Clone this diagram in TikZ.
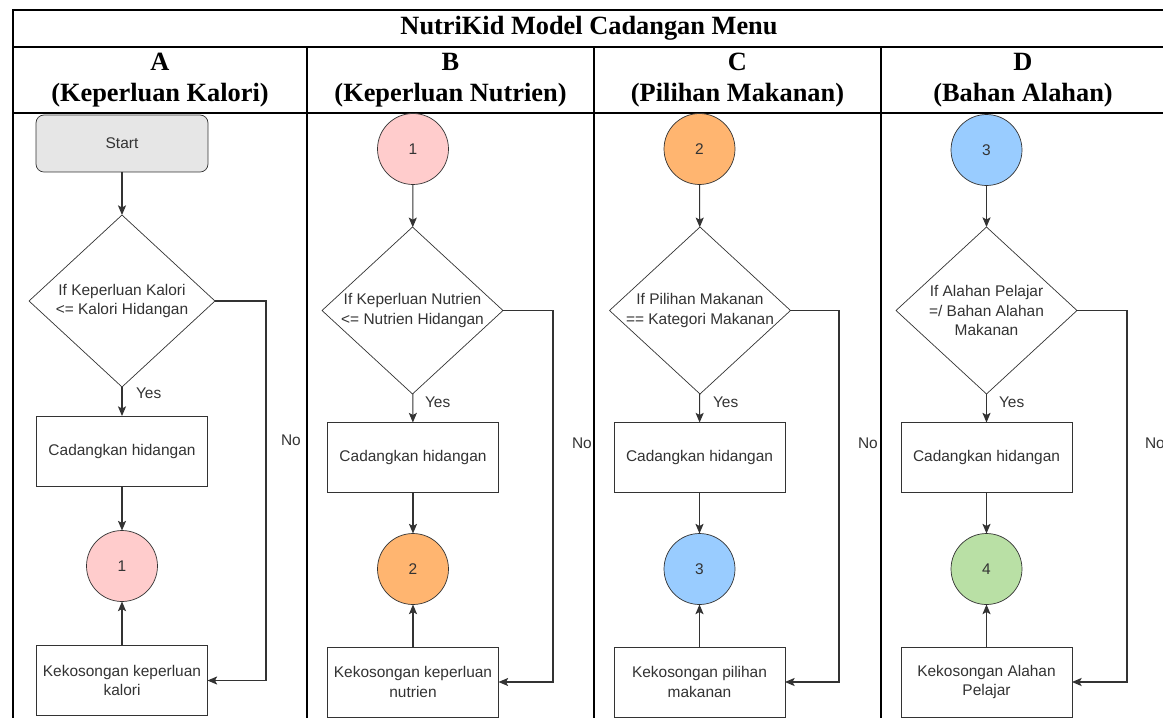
\documentclass[tikz,border=0pt]{standalone}
\usepackage{fontspec}
\setmainfont{Liberation Serif}
\newfontfamily\flowfont{Liberation Sans}
\usetikzlibrary{shapes.geometric,arrows.meta}

\definecolor{startfill}{HTML}{E6E6E6}
\definecolor{pinkfill}{HTML}{FFCCCC}
\definecolor{orangefill}{HTML}{FFB570}
\definecolor{bluefill}{HTML}{99CCFF}
\definecolor{greenfill}{HTML}{B9E0A5}
\definecolor{flowline}{HTML}{333333}

\tikzset{
    cell/.style = {line width = 1.1pt, line cap = rect},
    head/.style = {font = \bfseries\fontsize{15}{18}\selectfont, align = center, inner sep = 0},
    txt/.style = {font = \flowfont\fontsize{8.8}{11.3}\selectfont, text = black!80, align = center, inner sep = 0, outer sep = 0},
    startbox/.style = {txt, draw = flowline, fill = startfill, rounded corners = 4.5pt, minimum width = 3.44cm, minimum height = 1.14cm},
    proc/.style = {txt, draw = flowline, fill = white, minimum width = 3.42cm, minimum height = 1.4cm},
    decision/.style = {diamond, draw = flowline, fill = white, inner sep = 0, outer sep = 0, minimum width = 3.62cm, minimum height = 3.34cm},
    conn/.style = {txt, circle, draw = flowline, minimum size = 1.42cm},
    flow/.style = {draw = flowline, line width = 0.6pt, -{Stealth[length = 5.5pt, width = 4.6pt, inset = 1.2pt]}}
}

\begin{document}
\begin{tikzpicture}[x = 0.02cm, y = -0.02cm]
        \useasboundingbox (0, 0) rectangle (1163, 717);
        % table
        \draw[cell] (13, 10) -- (1163, 10);
        \draw[cell] (13, 47) -- (1163, 47);
        \draw[cell] (13, 113) -- (1163, 113);
        \draw[cell] (13, 10) -- (13, 717);
        \draw[cell] (307, 47) -- (307, 717);
        \draw[cell] (594, 47) -- (594, 717);
        \draw[cell] (881, 47) -- (881, 717);
        \node[head] (title) at (589, 28.5) {NutriKid Model Cadangan Menu};
        \node[head] (headA) at (160, 80) {A\\(Keperluan Kalori)};
        \node[head] (headB) at (450.5, 80) {B\\(Keperluan Nutrien)};
        \node[head] (headC) at (737.5, 80) {C\\(Pilihan Makanan)};
        \node[head] (headD) at (1023, 80) {D\\(Bahan Alahan)};

        % A
        \node[startbox] (startA) at (122, 143.5) {Start};
        \node[decision, minimum width = 3.72cm, minimum height = 3.44cm] (ifA) at (122, 301) {};
        \node[txt] (ifAtext) at (ifA) {If Keperluan Kalori\\<= Kalori Hidangan};
        \node[proc] (cadA) at (122, 451) {Cadangkan hidangan};
        \node[conn, fill = pinkfill] (oneA) at (122, 566) {1};
        \node[proc] (kosA) at (122, 680.5) {Kekosongan keperluan\\kalori};
        \coordinate (noA) at (266, 301);
        \draw[flow] (startA) -- (ifA);
        \draw[flow] (ifA) -- (cadA);
        \draw[flow] (cadA) -- (oneA);
        \draw[flow] (kosA) -- (oneA);
        \draw[flow] (ifA.east) -- (noA) |- (kosA.east);
        \node[txt, anchor = west] (yesAlabel) at (136, 393) {Yes};
        \node[txt, anchor = west] (noAlabel) at (281, 440) {No};

        % B
        \node[conn, fill = pinkfill] (oneB) at (413, 149) {1};
        \node[decision] (ifB) at (412.5, 310.5) {};
        \node[txt] (ifBtext) at (ifB) {If Keperluan Nutrien\\<= Nutrien Hidangan};
        \node[proc] (cadB) at (413, 457.5) {Cadangkan hidangan};
        \node[conn, fill = orangefill] (twoB) at (413, 569) {2};
        \node[proc] (kosB) at (413, 682) {Kekosongan keperluan\\nutrien};
        \coordinate (noB) at (553, 310.5);
        \draw[flow] (oneB) -- (ifB);
        \draw[flow] (ifB) -- (cadB);
        \draw[flow] (cadB) -- (twoB);
        \draw[flow] (kosB) -- (twoB);
        \draw[flow] (ifB.east) -- (noB) |- (kosB.east);
        \node[txt, anchor = west] (yesBlabel) at (425, 402) {Yes};
        \node[txt, anchor = west] (noBlabel) at (572, 443) {No};

        % C
        \node[conn, fill = orangefill] (twoC) at (699.5, 149) {2};
        \node[decision] (ifC) at (700, 310.5) {};
        \node[txt] (ifCtext) at (ifC) {If Pilihan Makanan\\== Kategori Makanan};
        \node[proc] (cadC) at (699.5, 457.5) {Cadangkan hidangan};
        \node[conn, fill = bluefill] (threeC) at (699.5, 569) {3};
        \node[proc] (kosC) at (699.5, 682) {Kekosongan pilihan\\makanan};
        \coordinate (noC) at (839, 310.5);
        \draw[flow] (twoC) -- (ifC);
        \draw[flow] (ifC) -- (cadC);
        \draw[flow] (cadC) -- (threeC);
        \draw[flow] (kosC) -- (threeC);
        \draw[flow] (ifC.east) -- (noC) |- (kosC.east);
        \node[txt, anchor = west] (yesClabel) at (713, 402) {Yes};
        \node[txt, anchor = west] (noClabel) at (858, 443) {No};

        % D
        \node[conn, fill = bluefill] (threeD) at (986.5, 150) {3};
        \node[decision] (ifD) at (986.5, 310.5) {};
        \node[txt] (ifDtext) at (ifD) {If Alahan Pelajar\\=/ Bahan Alahan\\Makanan};
        \node[proc] (cadD) at (986.5, 457.5) {Cadangkan hidangan};
        \node[conn, fill = greenfill] (fourD) at (986.5, 569) {4};
        \node[proc] (kosD) at (986.5, 682) {Kekosongan Alahan\\Pelajar};
        \coordinate (noD) at (1127, 310.5);
        \draw[flow] (threeD) -- (ifD);
        \draw[flow] (ifD) -- (cadD);
        \draw[flow] (cadD) -- (fourD);
        \draw[flow] (kosD) -- (fourD);
        \draw[flow] (ifD.east) -- (noD) |- (kosD.east);
        \node[txt, anchor = west] (yesDlabel) at (999, 402) {Yes};
        \node[txt, anchor = west] (noDlabel) at (1145, 443) {No};
    \end{tikzpicture}
\end{document}
